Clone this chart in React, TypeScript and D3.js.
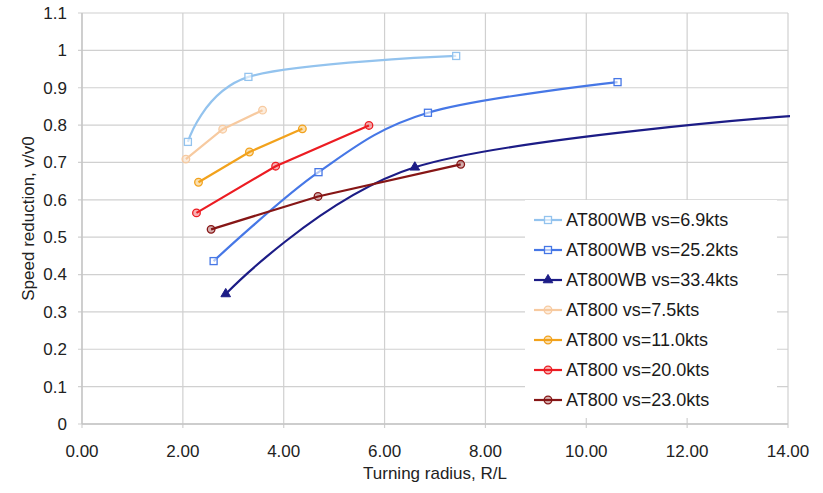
import React from "react";
import * as d3 from "d3";

const W = 823;
const H = 493;
const margin = { left: 82, right: 35, top: 13, bottom: 69 };

const xTicks = [0, 2, 4, 6, 8, 10, 12, 14];
const yTicks = [0, 0.1, 0.2, 0.3, 0.4, 0.5, 0.6, 0.7, 0.8, 0.9, 1, 1.1];
const yTickLabels = ["0", "0.1", "0.2", "0.3", "0.4", "0.5", "0.6", "0.7", "0.8", "0.9", "1", "1.1"];

const wb69 = [[2.10, 0.755], [3.30, 0.929], [7.42, 0.985]];
const wb252 = [[2.61, 0.436], [4.69, 0.674], [6.86, 0.833], [10.62, 0.915]];
const wb334 = [[2.85, 0.348], [6.60, 0.687], [14.04, 0.824]];
const at75 = [[2.06, 0.709], [2.79, 0.789], [3.58, 0.840]];
const at110 = [[2.31, 0.647], [3.32, 0.728], [4.37, 0.790]];
const at200 = [[2.27, 0.565], [3.84, 0.690], [5.69, 0.799]];
const at230 = [[2.56, 0.521], [4.68, 0.609], [7.51, 0.695]];

const seriesNames = [
  "AT800WB vs=6.9kts",
  "AT800WB vs=25.2kts",
  "AT800WB vs=33.4kts",
  "AT800 vs=7.5kts",
  "AT800 vs=11.0kts",
  "AT800 vs=20.0kts",
  "AT800 vs=23.0kts",
];
const seriesData = [wb69, wb252, wb334, at75, at110, at200, at230];
const seriesColors = ["#93c3ee", "#4677e6", "#1c1c86", "#f7caa0", "#f2a21c", "#ec1c22", "#861616"];
const seriesMarkers = ["square", "square", "triangle", "circle", "circle", "circle", "circle"];
const seriesSmooth = [true, true, true, false, false, false, false];

const FONT = "'Liberation Sans', Arial, Helvetica, sans-serif";

function Marker({ type, x, y, color }: { type: string; x: number; y: number; color: string }) {
  if (type === "square") {
    return <rect x={x - 3.5} y={y - 3.5} width={7} height={7} fill="#ffffff" fillOpacity={0.6} stroke={color} strokeWidth={1.3} />;
  }
  if (type === "triangle") {
    const p = d3.symbol(d3.symbolTriangle, 40)();
    return <path d={p || ""} transform={`translate(${x},${y})`} fill={color} stroke={color} strokeWidth={1} />;
  }
  return <circle cx={x} cy={y} r={3.8} fill={color} fillOpacity={0.35} stroke={color} strokeWidth={1.3} />;
}

export default function App() {
  const x = d3.scaleLinear().domain([0, 14]).range([margin.left, W - margin.right]);
  const y = d3.scaleLinear().domain([0, 1.1]).range([H - margin.bottom, margin.top]);
  const x0 = x(0), x1 = x(14), y0 = y(0), y1 = y(1.1);

  const lineSmooth = d3.line<number[]>().x((d) => x(d[0])).y((d) => y(d[1])).curve(d3.curveCardinal.tension(0));
  const lineStraight = d3.line<number[]>().x((d) => x(d[0])).y((d) => y(d[1]));

  const legX = 525, legY = 200, legW = 252, legH = 218;
  const legItemY0 = 220, legStep = 30;

  return (
    <svg width={W} height={H} style={{ position: "absolute", left: 0, top: 0, background: "#fff" }} fontFamily={FONT}>
      <defs>
        <clipPath id="plotclip">
          <rect x={x0} y={y1 - 5} width={x1 - x0 + 2} height={y0 - y1 + 10} />
        </clipPath>
      </defs>
      <rect x={0} y={0} width={W} height={H} fill="#fff" />
      {/* grid */}
      {yTicks.map((t) => (
        <line key={"gy" + t} x1={x0 - 4} x2={x1} y1={y(t)} y2={y(t)} stroke="#d0d0d0" strokeWidth={1.2} />
      ))}
      {xTicks.map((t) => (
        <line key={"gx" + t} x1={x(t)} x2={x(t)} y1={y1} y2={y0 + 4} stroke="#d0d0d0" strokeWidth={1.2} />
      ))}
      <line x1={x0} x2={x0} y1={y1} y2={y0} stroke="#c4c4c4" strokeWidth={1.3} />
      <line x1={x0} x2={x1} y1={y0} y2={y0} stroke="#c4c4c4" strokeWidth={1.3} />
      {/* tick labels */}
      {yTicks.map((t, i) => (
        <text key={"ty" + t} x={67} y={y(t)} dy="0.35em" textAnchor="end" fontSize={17} fill="#222">
          {yTickLabels[i]}
        </text>
      ))}
      {xTicks.map((t) => (
        <text key={"tx" + t} x={x(t)} y={457} textAnchor="middle" fontSize={17} fill="#222">
          {d3.format(".2f")(t)}
        </text>
      ))}
      <text x={(x0 + x1) / 2} y={479} textAnchor="middle" fontSize={17} fill="#222">
        Turning radius, R/L
      </text>
      <text transform={`translate(34,${(y0 + y1) / 2}) rotate(-90)`} textAnchor="middle" fontSize={17} fill="#222">
        Speed reduction, v/v0
      </text>
      {/* series */}
      <g clipPath="url(#plotclip)">
        {seriesData.map((data, i) => (
          <path
            key={"s" + i}
            d={(seriesSmooth[i] ? lineSmooth : lineStraight)(data) || ""}
            fill="none"
            stroke={seriesColors[i]}
            strokeWidth={2.2}
          />
        ))}
        {seriesData.map((data, i) =>
          data
            .filter((d) => d[0] < 14)
            .map((d, j) => <Marker key={`m${i}-${j}`} type={seriesMarkers[i]} x={x(d[0])} y={y(d[1])} color={seriesColors[i]} />)
        )}
      </g>
      {/* legend */}
      <rect x={legX} y={legY} width={legW} height={legH} fill="#fff" />
      {seriesNames.map((name, i) => {
        const ly = legItemY0 + i * legStep;
        return (
          <g key={"l" + i}>
            <line x1={534} x2={562} y1={ly} y2={ly} stroke={seriesColors[i]} strokeWidth={2.2} />
            <Marker type={seriesMarkers[i]} x={548} y={ly} color={seriesColors[i]} />
            <text x={566} y={ly} dy="0.36em" fontSize={18} fill="#1a1a1a">
              {name}
            </text>
          </g>
        );
      })}
    </svg>
  );
}
